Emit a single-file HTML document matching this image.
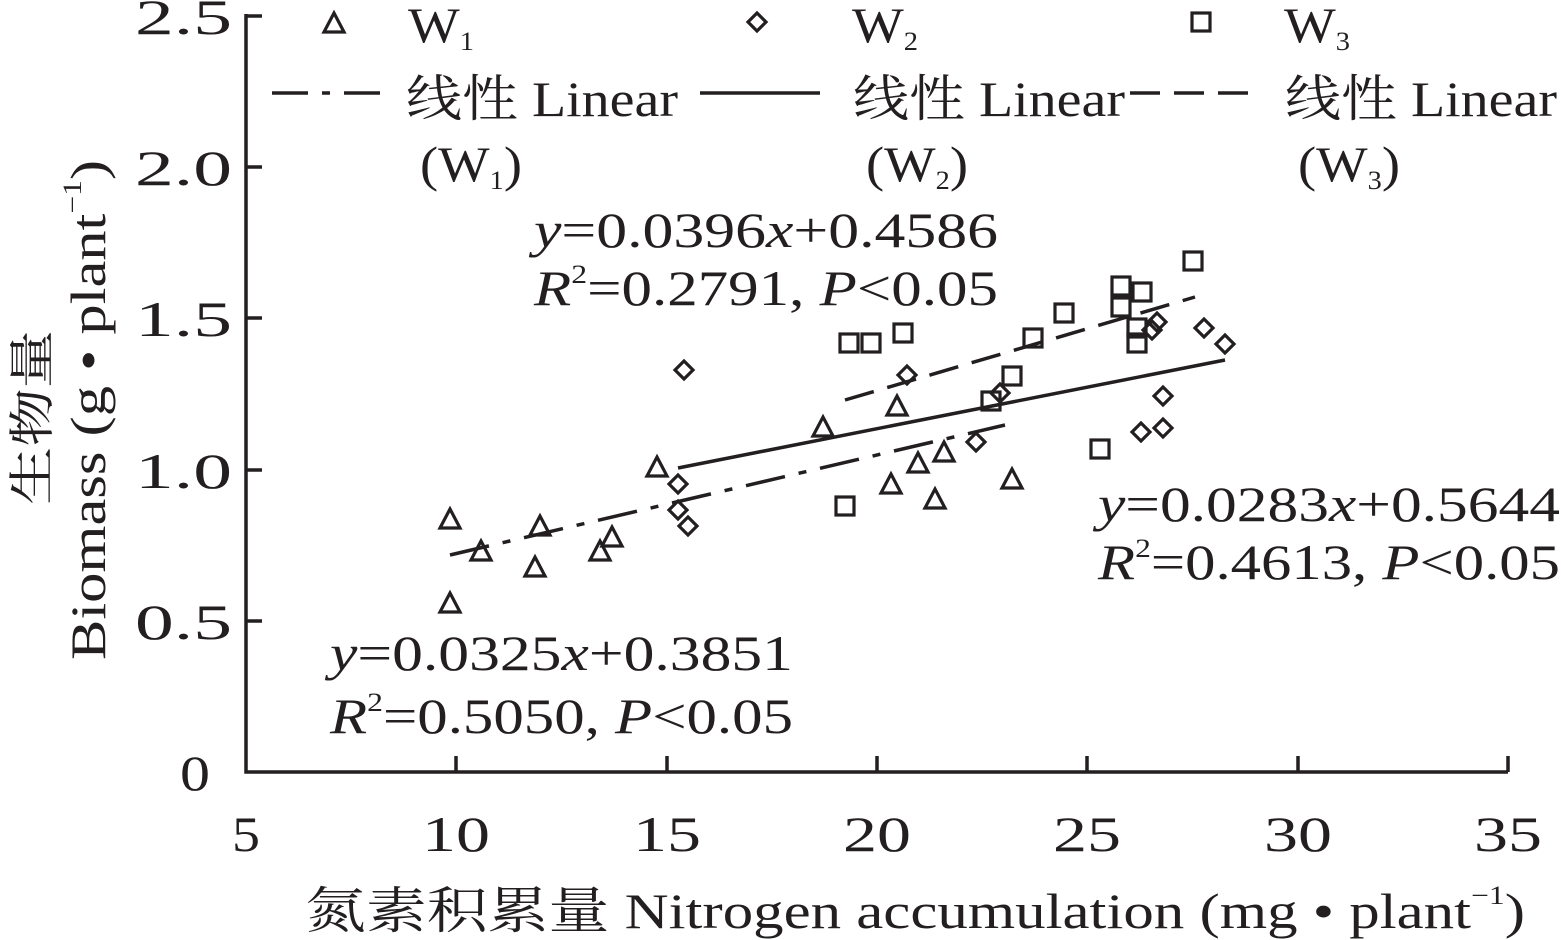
<!DOCTYPE html>
<html><head><meta charset="utf-8"><style>
html,body{margin:0;padding:0;background:#fff;}
svg{display:block;}
text{font-family:"Liberation Serif","Noto Serif CJK SC",serif;fill:#231f20;}
</style></head><body>
<svg width="1561" height="940" viewBox="0 0 1561 940" xmlns="http://www.w3.org/2000/svg">
<defs>
<path id="tri" d="M0,-11 L10,8 L-10,8 Z" fill="none" stroke="#231f20" stroke-width="3.2"/>
<path id="dia" d="M0,-9 L9,0 L0,9 L-9,0 Z" fill="none" stroke="#231f20" stroke-width="3.2"/>
<rect id="sq" x="-9" y="-9" width="18" height="18" fill="none" stroke="#231f20" stroke-width="3.2"/>
</defs>
<g stroke="#231f20" stroke-width="3.5" fill="none">
<path d="M246,14 L246,772 L1508,772"/>
<path d="M246,16 h16 M246,167 h16 M246,318 h16 M246,470 h16 M246,621 h16"/>
<path d="M456,772 v-16 M667,772 v-16 M877,772 v-16 M1087,772 v-16 M1298,772 v-16 M1508,772 v-16"/>
</g>
<g font-size="50" lengthAdjust="spacingAndGlyphs">
<text x="135" y="34" textLength="97" lengthAdjust="spacingAndGlyphs">2.5</text>
<text x="135" y="185" textLength="97" lengthAdjust="spacingAndGlyphs">2.0</text>
<text x="135" y="336" textLength="97" lengthAdjust="spacingAndGlyphs">1.5</text>
<text x="135" y="488" textLength="97" lengthAdjust="spacingAndGlyphs">1.0</text>
<text x="135" y="639" textLength="97" lengthAdjust="spacingAndGlyphs">0.5</text>
<text x="180" y="790" textLength="30" lengthAdjust="spacingAndGlyphs">0</text>
</g>
<g font-size="50">
<text x="232" y="851" textLength="28" lengthAdjust="spacingAndGlyphs">5</text>
<text x="422" y="851" textLength="68" lengthAdjust="spacingAndGlyphs">10</text>
<text x="633" y="851" textLength="68" lengthAdjust="spacingAndGlyphs">15</text>
<text x="843" y="851" textLength="68" lengthAdjust="spacingAndGlyphs">20</text>
<text x="1053" y="851" textLength="68" lengthAdjust="spacingAndGlyphs">25</text>
<text x="1264" y="851" textLength="68" lengthAdjust="spacingAndGlyphs">30</text>
<text x="1474" y="851" textLength="68" lengthAdjust="spacingAndGlyphs">35</text>
</g>
<text x="305" y="928" font-size="50" textLength="1220" lengthAdjust="spacingAndGlyphs">氮素积累量 Nitrogen accumulation (mg • plant<tspan font-size="26" dy="-24">−1</tspan><tspan dy="24">)</tspan></text>
<g transform="translate(105,660) rotate(-90)" font-size="50">
<text x="0" y="0" textLength="500" lengthAdjust="spacingAndGlyphs">Biomass (g • plant<tspan font-size="26" dy="-24">−1</tspan><tspan dy="24">)</tspan></text>
</g>
<g transform="translate(48,505) rotate(-90)" font-size="46">
<text x="0" y="0" fill="#555" textLength="175" lengthAdjust="spacingAndGlyphs">生物量</text>
</g>
<g stroke="#231f20" stroke-width="3.5" fill="none">
<path d="M450,555 L1005,425" stroke-dasharray="40,14,8,14"/>
<path d="M678,468 L1225,360"/>
<path d="M845,400 L1195,297" stroke-dasharray="30,14"/>
</g>
<g>
<use href="#tri" x="450" y="520"/><use href="#tri" x="450" y="604"/><use href="#tri" x="481" y="552"/>
<use href="#tri" x="535" y="568"/><use href="#tri" x="540" y="527"/><use href="#tri" x="600" y="552"/>
<use href="#tri" x="612" y="538"/><use href="#tri" x="657" y="468"/><use href="#tri" x="823" y="428"/>
<use href="#tri" x="891" y="485"/><use href="#tri" x="897" y="407"/><use href="#tri" x="918" y="464"/>
<use href="#tri" x="935" y="500"/><use href="#tri" x="944" y="453"/><use href="#tri" x="1012" y="480"/>
<use href="#dia" x="684" y="370"/><use href="#dia" x="678" y="484"/><use href="#dia" x="678" y="510"/>
<use href="#dia" x="688" y="526"/><use href="#dia" x="907" y="375"/><use href="#dia" x="976" y="442"/>
<use href="#dia" x="1000" y="393"/><use href="#dia" x="1141" y="432"/><use href="#dia" x="1163" y="428"/>
<use href="#dia" x="1163" y="396"/><use href="#dia" x="1152" y="330"/><use href="#dia" x="1157" y="322"/>
<use href="#dia" x="1204" y="328"/><use href="#dia" x="1225" y="344"/>
<use href="#sq" x="845" y="506"/><use href="#sq" x="849" y="343"/><use href="#sq" x="871" y="343"/>
<use href="#sq" x="903" y="333"/><use href="#sq" x="991" y="401"/><use href="#sq" x="1012" y="376"/>
<use href="#sq" x="1033" y="338"/><use href="#sq" x="1064" y="313"/><use href="#sq" x="1100" y="449"/>
<use href="#sq" x="1121" y="286"/><use href="#sq" x="1121" y="307"/><use href="#sq" x="1142" y="292"/>
<use href="#sq" x="1137" y="328"/><use href="#sq" x="1137" y="343"/><use href="#sq" x="1193" y="261"/>
</g>
<use href="#tri" x="334" y="24"/><use href="#dia" x="757" y="22"/><use href="#sq" x="1201" y="22"/>
<g font-size="50">
<text x="408" y="42" textLength="66" lengthAdjust="spacingAndGlyphs">W<tspan font-size="26" dy="8">1</tspan></text>
<text x="852" y="42" textLength="66" lengthAdjust="spacingAndGlyphs">W<tspan font-size="26" dy="8">2</tspan></text>
<text x="1284" y="42" textLength="66" lengthAdjust="spacingAndGlyphs">W<tspan font-size="26" dy="8">3</tspan></text>
<text x="406" y="116" textLength="272" lengthAdjust="spacingAndGlyphs">线性 Linear</text>
<text x="853" y="116" textLength="272" lengthAdjust="spacingAndGlyphs">线性 Linear</text>
<text x="1285" y="116" textLength="272" lengthAdjust="spacingAndGlyphs">线性 Linear</text>
<text x="420" y="181" textLength="102" lengthAdjust="spacingAndGlyphs">(W<tspan font-size="26" dy="8">1</tspan><tspan dy="-8">)</tspan></text>
<text x="866" y="181" textLength="102" lengthAdjust="spacingAndGlyphs">(W<tspan font-size="26" dy="8">2</tspan><tspan dy="-8">)</tspan></text>
<text x="1298" y="181" textLength="102" lengthAdjust="spacingAndGlyphs">(W<tspan font-size="26" dy="8">3</tspan><tspan dy="-8">)</tspan></text>
</g>
<g stroke="#231f20" stroke-width="3.5">
<path d="M272,93 H392" stroke-dasharray="36,14,8,14"/>
<path d="M700,93 H820"/>
<path d="M1130,93 H1255" stroke-dasharray="30,14"/>
</g>
<g font-size="50" fill="#3a3a3a">
<text x="534" y="247" textLength="464" lengthAdjust="spacingAndGlyphs"><tspan font-style="italic">y</tspan>=0.0396<tspan font-style="italic">x</tspan>+0.4586</text>
<text x="534" y="305" textLength="464" lengthAdjust="spacingAndGlyphs"><tspan font-style="italic">R</tspan><tspan font-size="26" dy="-22">2</tspan><tspan dy="22">=0.2791, </tspan><tspan font-style="italic">P</tspan>&lt;0.05</text>
<text x="1098" y="521" textLength="462" lengthAdjust="spacingAndGlyphs"><tspan font-style="italic">y</tspan>=0.0283<tspan font-style="italic">x</tspan>+0.5644</text>
<text x="1098" y="579" textLength="462" lengthAdjust="spacingAndGlyphs"><tspan font-style="italic">R</tspan><tspan font-size="26" dy="-22">2</tspan><tspan dy="22">=0.4613, </tspan><tspan font-style="italic">P</tspan>&lt;0.05</text>
<text x="330" y="670" textLength="463" lengthAdjust="spacingAndGlyphs"><tspan font-style="italic">y</tspan>=0.0325<tspan font-style="italic">x</tspan>+0.3851</text>
<text x="330" y="733" textLength="463" lengthAdjust="spacingAndGlyphs"><tspan font-style="italic">R</tspan><tspan font-size="26" dy="-22">2</tspan><tspan dy="22">=0.5050, </tspan><tspan font-style="italic">P</tspan>&lt;0.05</text>
</g>
</svg>
</body></html>
